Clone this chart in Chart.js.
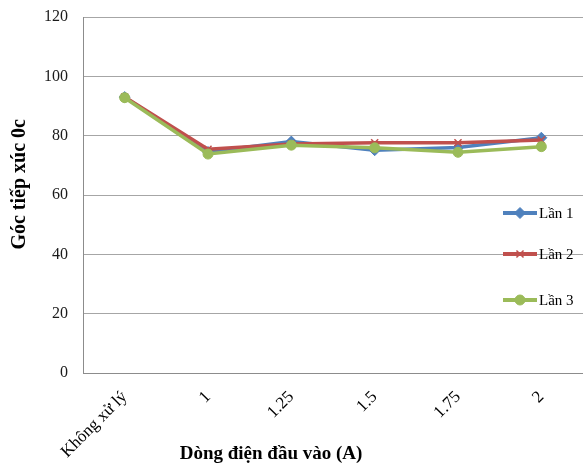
<!DOCTYPE html>
<html>
<head>
<meta charset="utf-8">
<script src="https://cdn.jsdelivr.net/npm/chart.js@4/dist/chart.umd.min.js"></script>
<style>
  html, body { margin: 0; padding: 0; background: #fff; }
  #wrap { width: 583px; height: 468px; }
</style>
</head>
<body>
<div id="wrap"><canvas id="c" width="583" height="468"></canvas></div>
<script>
const categories = ['Không xử lý', '1', '1.25', '1.5', '1.75', '2'];
const lan1 = [93, 74.5, 78, 75.1, 76, 79.3];
const lan2 = [93, 75.4, 77.2, 77.6, 77.6, 78.5];
const lan3 = [92.8, 73.8, 76.8, 75.9, 74.4, 76.3];
const seriesNames = ['Lần 1', 'Lần 2', 'Lần 3'];
const yTicks = [0, 20, 40, 60, 80, 100, 120];
const xAxisTitle = 'Dòng điện đầu vào (A)';
const yAxisTitle = 'Góc tiếp xúc 0c';

const SERIF = '"Liberation Serif", "Times New Roman", serif';

// Legend drawn inside the right side of the plot, over the gridlines
const sideLegend = {
  id: 'sideLegend',
  afterDatasetsDraw(chart) {
    const ctx = chart.ctx;
    const rows = [213, 254, 300];
    chart.data.datasets.forEach((ds, i) => {
      const y = rows[i];
      ctx.save();
      ctx.strokeStyle = ds.borderColor;
      ctx.fillStyle = ds.borderColor;
      ctx.lineWidth = 4;
      ctx.beginPath();
      ctx.moveTo(503, y);
      ctx.lineTo(537, y);
      ctx.stroke();
      ctx.lineWidth = ds.pointBorderWidth;
      Chart.helpers.drawPoint(ctx, {
        pointStyle: ds.pointStyle,
        radius: ds.pointRadius,
        borderWidth: ds.pointBorderWidth,
        rotation: 0
      }, 520, y);
      ctx.restore();
      ctx.save();
      ctx.fillStyle = '#000';
      ctx.font = '15px ' + SERIF;
      ctx.textBaseline = 'middle';
      ctx.fillText(ds.label, 539, y + 1);
      ctx.restore();
    });
  }
};

// Axis titles, drawn beside the plot
const axisTitles = {
  id: 'axisTitles',
  afterDraw(chart) {
    const ctx = chart.ctx;
    const a = chart.chartArea;
    ctx.save();
    ctx.fillStyle = '#000';
    ctx.font = 'bold 19px ' + SERIF;
    ctx.textAlign = 'center';
    ctx.textBaseline = 'middle';
    ctx.fillText(xAxisTitle, a.left + a.width * 0.376, 454);
    ctx.translate(20, a.top + a.height * 0.47);
    ctx.rotate(-Math.PI / 2);
    ctx.font = 'bold 20px ' + SERIF;
    ctx.fillText(yAxisTitle, 0, 0);
    ctx.restore();
  }
};

function series(label, data, color, style, radius, order) {
  return {
    label: label,
    data: data,
    borderColor: color,
    backgroundColor: color,
    borderWidth: 3.5,
    pointStyle: style,
    pointRadius: radius,
    pointHoverRadius: radius,
    pointBorderColor: color,
    pointBackgroundColor: color,
    pointBorderWidth: style === 'crossRot' ? 1.5 : 1,
    tension: 0,
    order: order
  };
}

new Chart(document.getElementById('c'), {
  type: 'line',
  data: {
    labels: categories,
    datasets: [
      series(seriesNames[0], lan1, '#4F81BD', 'rectRot', 5.5, 2),
      series(seriesNames[1], lan2, '#C0504D', 'crossRot', 5, 1),
      series(seriesNames[2], lan3, '#9BBB59', 'circle', 5, 0)
    ]
  },
  options: {
    responsive: false,
    animation: false,
    devicePixelRatio: 1,
    layout: { autoPadding: false, padding: { top: 17, right: 0, bottom: 0, left: 0 } },
    plugins: {
      legend: { display: false },
      tooltip: { enabled: false }
    },
    scales: {
      x: {
        offset: true,
        grid: { display: false, drawTicks: false },
        border: { display: true, color: '#8c8c8c', width: 1 },
        ticks: {
          color: '#000',
          font: { family: SERIF, size: 17 },
          maxRotation: 45,
          minRotation: 45,
          padding: 14,
          autoSkip: false
        },
        afterFit(scale) {
          scale.height = 95;
          scale.paddingLeft = 0;
          scale.paddingRight = 0;
        }
      },
      y: {
        min: 0,
        max: 120,
        afterBuildTicks(scale) { scale.ticks = yTicks.map(v => ({ value: v })); },
        grid: { color: '#a6a6a6', lineWidth: 1, drawTicks: false },
        border: { display: true, color: '#8c8c8c', width: 1 },
        ticks: {
          color: '#1a1a1a',
          font: { family: SERIF, size: 16 },
          padding: 15
        },
        afterFit(scale) {
          scale.width = 83;
          scale.paddingTop = 0;
          scale.paddingBottom = 0;
        }
      }
    }
  },
  plugins: [sideLegend, axisTitles]
});
</script>
</body>
</html>
